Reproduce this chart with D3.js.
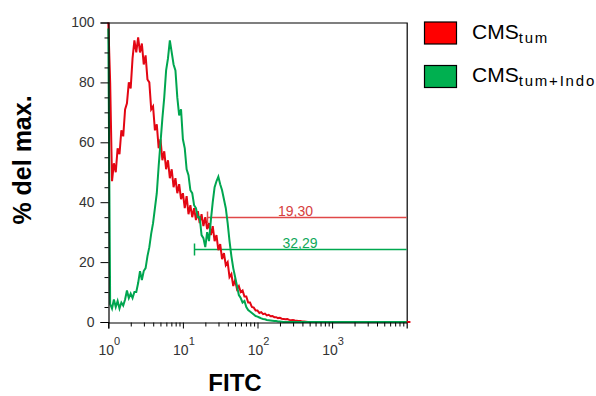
<!DOCTYPE html>
<html><head><meta charset="utf-8">
<script src="https://cdn.jsdelivr.net/npm/d3@7"></script>
<style>
html,body{margin:0;padding:0;background:#fff;}
svg{display:block;font-family:"Liberation Sans",Arial,sans-serif;}
</style></head>
<body><svg id="c" width="596" height="396"></svg>
<script>
// ---- data ----
const seriesNames = ["CMS", "CMS"];
const seriesSubs = ["tum", "tum+Indo"];
// log-channel exponent step (decades per bin)
const binStep = 0.025;
const redValues = [100,80,47,53,50,58,56,64,62,71,73,80,78,88,94,90,95,90,93,86,89,81,80,71,72,64,66,58,61,54,57,51,54,48,51,45,48,43,46,41,43,38,42,36,39,35,38,34,37,33,36,32,35,31,33,29,32,27,29,24,26,21,23,19,20,15,16,12,14,11,12,10,10.5,8.5,8.5,6.5,6.5,5,4.8,3.8,3.8,3,3.3,2.6,2.8,2.2,2.4,1.9,2,1.6,1.6,1.3,1.4,1.1,1.0,0.9,1.0,0.7,0.6,0.7,0.5,0.4,0.3,0.3,0.2,0.2,0.1,0,0,0,0,0,0,0,0,0,0,0,0,0,0,0,0,0,0,0,0,0,0,0,0,0,0,0,0,0,0,0,0,0,0,0,0,0,0,0,0,0,0,0,0,0,0,0,0,0,0,0,0,0,0,0,0];
const greenValues = [98,6,4.5,7.5,5,7,4.5,6.5,5.5,7.5,10.5,8,9.5,8,10,10,13,17,14,17,18,22,25,29.5,33,38,43,52,60,68,75,84,88,94,90,86,84,75,69,71,61,58,51,49,44,43,39,38,35,35,29,28,25,30,27,34,40,45,47,48.5,46,44,41,38,33,27,22,18,15,12,9,8,6.5,7,5,4,3.5,3,2.5,2,1.8,1.5,1.2,1.0,0.9,0.7,0.6,0.5,0.4,0.3,0.3,0.2,0.2,0.1,0,0,0,0,0,0,0,0,0,0,0,0,0,0,0,0,0,0,0,0,0,0,0,0,0,0,0,0,0,0,0,0,0,0,0,0,0,0,0,0,0,0,0,0,0,0,0,0,0,0,0,0,0,0,0,0,0,0,0,0,0,0,0,0,0,0,0];
const gateLabels = ["19,30", "32,29"];
const gateStart = [21, 14.2];     // FITC value where gate begins
const gateLevel = [35.1, 24.5];   // % level of gate line
const yTicks = [0, 20, 40, 60, 80, 100];
const yMinor = [5,10,15,25,30,35,45,50,55,65,70,75,85,90,95];
const xDecades = [1, 10, 100, 1000];
const xExp = ["0", "1", "2", "3"];

// ---- chart ----
const svg = d3.select("#c");
const x = d3.scaleLog().domain([1, 10000]).range([108.3, 406.7]);
const y = d3.scaleLinear().domain([0, 100]).range([322, 22.5]);
const red = "#e30613", green = "#00a650";

const binX = redValues.map((_, i) => Math.pow(10, i * binStep));

// frame top & right
svg.append("path").attr("d", `M${x(1)},${y(100)+0.5}H${x(10000)+0.5}V${y(0)}`)
  .attr("fill", "none").attr("stroke", "#000").attr("stroke-width", 1.2);

// gates (drawn under curves)
const gateColors = ["#e04848", "#00a84f"];
const labelColors = ["#d64040", "#10a85a"];
gateLabels.forEach((lab, k) => {
  const gy = Math.round(y(gateLevel[k])) + 0.5;
  const gx = Math.round(x(gateStart[k])) + 0.5;
  svg.append("line").attr("x1", gx).attr("x2", x(10000)).attr("y1", gy).attr("y2", gy)
    .style("stroke", gateColors[k]).attr("stroke-width", 1.5);
  svg.append("line").attr("x1", gx).attr("x2", gx)
    .attr("y1", gy - 6).attr("y2", gy + 6).style("stroke", gateColors[k]).attr("stroke-width", 1.5);
  svg.append("text").attr("x", k === 0 ? 295.5 : 300).attr("y", gy - 1.5).attr("text-anchor", "middle")
    .attr("font-size", 14).style("fill", labelColors[k]).text(lab);
});

// curves
const line = d3.line().x(d => x(d[0])).y(d => y(d[1]));
svg.append("path").datum(binX.map((b, i) => [b, redValues[i]]))
  .attr("d", line).attr("fill", "none").attr("stroke", red).attr("stroke-width", 2).attr("stroke-linejoin", "miter");
svg.append("path").datum(binX.map((b, i) => [b, greenValues[i]]))
  .attr("d", line).attr("fill", "none").attr("stroke", green).attr("stroke-width", 2).attr("stroke-linejoin", "miter");

// y axis
const yAxis = svg.append("g").attr("transform", "translate(108.5,0)")
  .call(d3.axisLeft(y).tickValues(yTicks).tickSize(8).tickPadding(6).tickFormat(d3.format("d")));
svg.append("g").attr("transform", "translate(108.5,0)")
  .call(d3.axisLeft(y).tickValues(yMinor).tickSize(4).tickFormat(""))
  .select(".domain").remove();
yAxis.selectAll("text").attr("font-size", 14).attr("fill", "#333").attr("font-family", "Liberation Sans, Arial, sans-serif");

// x axis
const minor = [];
xDecades.forEach(d => { for (let m = 2; m <= 9; m++) minor.push(d * m); });
svg.append("g").attr("transform", "translate(0,322.5)")
  .call(d3.axisBottom(x).tickValues(xDecades).tickSize(6).tickFormat(""));
svg.append("g").attr("transform", "translate(0,322.5)")
  .call(d3.axisBottom(x).tickValues(minor).tickSize(4).tickFormat(""))
  .select(".domain").remove();
svg.selectAll(".domain").attr("stroke-width", 1.2);
xDecades.forEach((d, i) => {
  const t = svg.append("text").attr("x", x(d) + 1).attr("y", 355).attr("text-anchor", "middle")
    .attr("font-size", 14).attr("fill", "#333");
  t.append("tspan").text("10");
  t.append("tspan").attr("dy", -10).attr("font-size", 11).text(xExp[i]);
});

// axis titles
svg.append("text").attr("x", 235).attr("y", 391).attr("text-anchor", "middle")
  .attr("font-size", 24).attr("font-weight", "bold").text("FITC");
svg.append("text").attr("transform", "translate(31,160) rotate(-90)").attr("text-anchor", "middle")
  .attr("font-size", 25).attr("font-weight", "bold").text("% del max.");

// legend
const legColors = ["#ff0000", "#00b050"];
const legY = [22, 65.5];
seriesNames.forEach((n, i) => {
  svg.append("rect").attr("x", 424.5).attr("y", legY[i]).attr("width", 32).attr("height", 22)
    .attr("fill", legColors[i]).attr("stroke", "#000").attr("stroke-width", 1.2);
  const t = svg.append("text").attr("x", 472).attr("y", legY[i] + 16.5).attr("font-size", 21).attr("fill", "#000");
  t.append("tspan").text(n);
  t.append("tspan").attr("dy", 4).attr("font-size", 15).attr("letter-spacing", 1.8).text(seriesSubs[i]);
});
</script></body></html>
